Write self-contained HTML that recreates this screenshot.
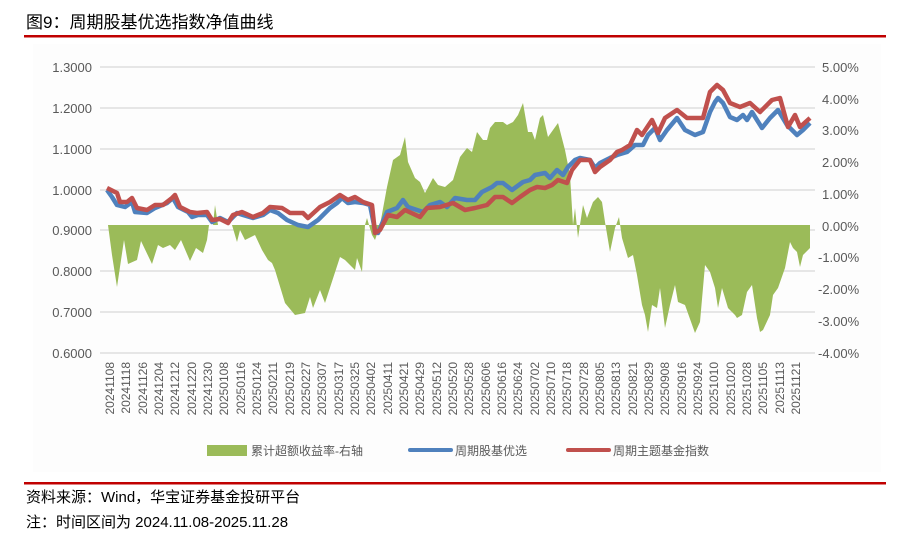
<!DOCTYPE html>
<html><head><meta charset="utf-8"><style>
html,body{margin:0;padding:0;background:#fff;}
svg{display:block;}
text{font-family:"Liberation Sans","Noto Sans CJK SC",sans-serif;}
</style></head><body>
<svg width="915" height="537" viewBox="0 0 915 537" xmlns="http://www.w3.org/2000/svg">
<rect x="33" y="44" width="848" height="428" fill="#fdfdfd"/>
<text x="26" y="28" font-size="17" fill="#000">图9：周期股基优选指数净值曲线</text>
<rect x="24" y="35" width="862" height="2.5" fill="#c00000"/>
<g stroke="#d9d9d9" stroke-width="1.3">
<line x1="100" y1="67" x2="815" y2="67"/><line x1="100" y1="108" x2="815" y2="108"/>
<line x1="100" y1="149" x2="815" y2="149"/><line x1="100" y1="190" x2="815" y2="190"/>
<line x1="100" y1="230" x2="815" y2="230"/><line x1="100" y1="271" x2="815" y2="271"/>
<line x1="100" y1="312" x2="815" y2="312"/><line x1="100" y1="353" x2="815" y2="353"/>
</g>
<g font-size="13" fill="#595959" text-anchor="end">
<text x="92" y="72">1.3000</text><text x="92" y="113">1.2000</text><text x="92" y="154">1.1000</text>
<text x="92" y="195">1.0000</text><text x="92" y="235">0.9000</text><text x="92" y="276">0.8000</text>
<text x="92" y="317">0.7000</text><text x="92" y="358">0.6000</text>
</g>
<g font-size="13" fill="#595959">
<text x="822" y="72">5.00%</text><text x="822" y="104">4.00%</text><text x="822" y="135">3.00%</text>
<text x="822" y="167">2.00%</text><text x="822" y="199">1.00%</text><text x="822" y="231">0.00%</text>
<text x="818" y="262">-1.00%</text><text x="818" y="294">-2.00%</text><text x="818" y="326">-3.00%</text>
<text x="818" y="358">-4.00%</text>
</g>
<polygon fill="#9bbb59" points="108,225 112,255 117,287 124,240 128,264 137,260 141,241 152,264 158,245 163,248 170,245 175,250 181,240 190,261 196,248 203,253 207,240 209,225 213,225 215,205 218,225 232,225 237,242 240,230 245,240 255,235 262,250 268,260 272,263 275,270 285,303 295,315 305,313 310,297 313,308 320,290 325,303 340,257 345,260 355,270 357,258 362,272 365,225 367,218 369,225 372,235 375,240 380,225 387,187 393,160 400,155 405,137 408,162 415,178 420,182 425,193 433,178 438,185 445,187 453,180 460,157 467,148 472,152 477,132 483,140 487,140 490,128 495,122 503,122 507,125 513,122 518,115 523,103 528,132 532,132 535,140 540,118 543,115 548,137 553,130 558,123 565,150 570,175 573,225 575,208 578,238 583,205 587,218 593,202 598,197 602,202 605,222 610,252 615,228 619,217 622,238 628,258 633,255 637,275 642,305 645,315 648,332 652,305 657,308 660,288 665,328 670,305 675,285 678,302 685,305 695,333 700,322 705,265 710,272 715,288 718,308 722,288 728,308 735,315 737,318 742,315 747,292 752,285 757,318 760,332 763,330 770,315 773,295 778,288 785,268 790,242 793,248 797,252 800,267 803,255 810,248 810,225"/>
<polyline fill="none" stroke="#4f81bd" stroke-width="4.5" stroke-linejoin="round" points="107,190 112,197 117,205 125,207 132,202 135,212 147,213 155,208 167,203 173,198 178,207 188,212 192,217 198,215 207,215 212,222 220,218 228,222 237,213 243,215 253,218 263,215 270,210 278,213 287,220 298,225 308,227 318,220 330,208 337,203 342,198 348,203 355,202 363,203 370,205 375,230 378,233 387,212 397,208 403,200 408,207 423,212 430,205 440,202 447,207 455,198 467,200 475,200 482,192 492,187 497,183 503,183 512,190 523,182 530,180 535,175 545,173 550,178 557,170 563,175 568,167 575,160 580,158 590,160 595,168 600,163 610,158 617,155 627,152 635,145 643,145 648,135 655,128 660,140 667,130 677,118 685,130 695,135 703,132 710,112 715,102 718,98 723,103 730,117 737,120 743,115 747,120 752,112 762,128 770,118 778,110 787,125 797,135 803,130 810,123"/>
<polyline fill="none" stroke="#c0504d" stroke-width="4.5" stroke-linejoin="round" points="107,188 117,193 120,202 127,202 132,198 137,208 147,210 155,205 163,205 172,198 175,195 180,207 190,212 197,213 207,212 212,220 220,219 228,223 233,215 242,212 253,217 263,213 270,207 282,208 290,213 303,213 308,218 320,207 330,202 340,195 348,200 355,197 363,202 372,205 375,233 380,230 388,215 397,217 405,210 420,217 427,208 440,207 453,203 465,210 475,208 487,205 495,197 503,197 512,203 520,197 530,190 537,187 545,188 552,185 558,180 567,183 572,170 580,160 590,160 595,172 600,167 610,160 617,152 622,150 630,145 637,130 642,135 652,120 658,133 665,118 677,110 687,118 703,118 710,92 717,85 723,90 730,103 740,107 750,103 760,112 772,100 780,98 788,127 795,115 800,127 810,118"/>
<g font-size="12" fill="#595959" text-anchor="end">
<text transform="translate(114,362) rotate(-90)">20241108</text>
<text transform="translate(130,362) rotate(-90)">20241118</text>
<text transform="translate(147,362) rotate(-90)">20241126</text>
<text transform="translate(163,362) rotate(-90)">20241204</text>
<text transform="translate(179,362) rotate(-90)">20241212</text>
<text transform="translate(196,362) rotate(-90)">20241220</text>
<text transform="translate(212,362) rotate(-90)">20241230</text>
<text transform="translate(228,362) rotate(-90)">20250108</text>
<text transform="translate(245,362) rotate(-90)">20250116</text>
<text transform="translate(261,362) rotate(-90)">20250124</text>
<text transform="translate(277,362) rotate(-90)">20250211</text>
<text transform="translate(294,362) rotate(-90)">20250219</text>
<text transform="translate(310,362) rotate(-90)">20250227</text>
<text transform="translate(326,362) rotate(-90)">20250307</text>
<text transform="translate(343,362) rotate(-90)">20250317</text>
<text transform="translate(359,362) rotate(-90)">20250325</text>
<text transform="translate(375,362) rotate(-90)">20250402</text>
<text transform="translate(392,362) rotate(-90)">20250411</text>
<text transform="translate(408,362) rotate(-90)">20250421</text>
<text transform="translate(424,362) rotate(-90)">20250429</text>
<text transform="translate(441,362) rotate(-90)">20250512</text>
<text transform="translate(457,362) rotate(-90)">20250520</text>
<text transform="translate(473,362) rotate(-90)">20250528</text>
<text transform="translate(490,362) rotate(-90)">20250606</text>
<text transform="translate(506,362) rotate(-90)">20250616</text>
<text transform="translate(522,362) rotate(-90)">20250624</text>
<text transform="translate(539,362) rotate(-90)">20250702</text>
<text transform="translate(555,362) rotate(-90)">20250710</text>
<text transform="translate(571,362) rotate(-90)">20250718</text>
<text transform="translate(588,362) rotate(-90)">20250728</text>
<text transform="translate(604,362) rotate(-90)">20250805</text>
<text transform="translate(620,362) rotate(-90)">20250813</text>
<text transform="translate(637,362) rotate(-90)">20250821</text>
<text transform="translate(653,362) rotate(-90)">20250829</text>
<text transform="translate(669,362) rotate(-90)">20250908</text>
<text transform="translate(686,362) rotate(-90)">20250916</text>
<text transform="translate(702,362) rotate(-90)">20250924</text>
<text transform="translate(718,362) rotate(-90)">20251010</text>
<text transform="translate(735,362) rotate(-90)">20251020</text>
<text transform="translate(751,362) rotate(-90)">20251028</text>
<text transform="translate(767,362) rotate(-90)">20251105</text>
<text transform="translate(784,362) rotate(-90)">20251113</text>
<text transform="translate(800,362) rotate(-90)">20251121</text>
</g>
<rect x="207" y="445" width="40" height="11" fill="#9bbb59"/>
<text x="251" y="455" font-size="12" fill="#595959">累计超额收益率-右轴</text>
<line x1="410" y1="450" x2="451" y2="450" stroke="#4f81bd" stroke-width="4" stroke-linecap="round"/>
<text x="455" y="455" font-size="12" fill="#595959">周期股基优选</text>
<line x1="568" y1="450" x2="609" y2="450" stroke="#c0504d" stroke-width="4" stroke-linecap="round"/>
<text x="613" y="455" font-size="12" fill="#595959">周期主题基金指数</text>
<rect x="24" y="482" width="862" height="2.5" fill="#c00000"/>
<text x="26" y="502" font-size="15" fill="#000">资料来源：Wind，华宝证券基金投研平台</text>
<text x="26" y="527" font-size="15" fill="#000">注：时间区间为 2024.11.08-2025.11.28</text>
</svg>
</body></html>
